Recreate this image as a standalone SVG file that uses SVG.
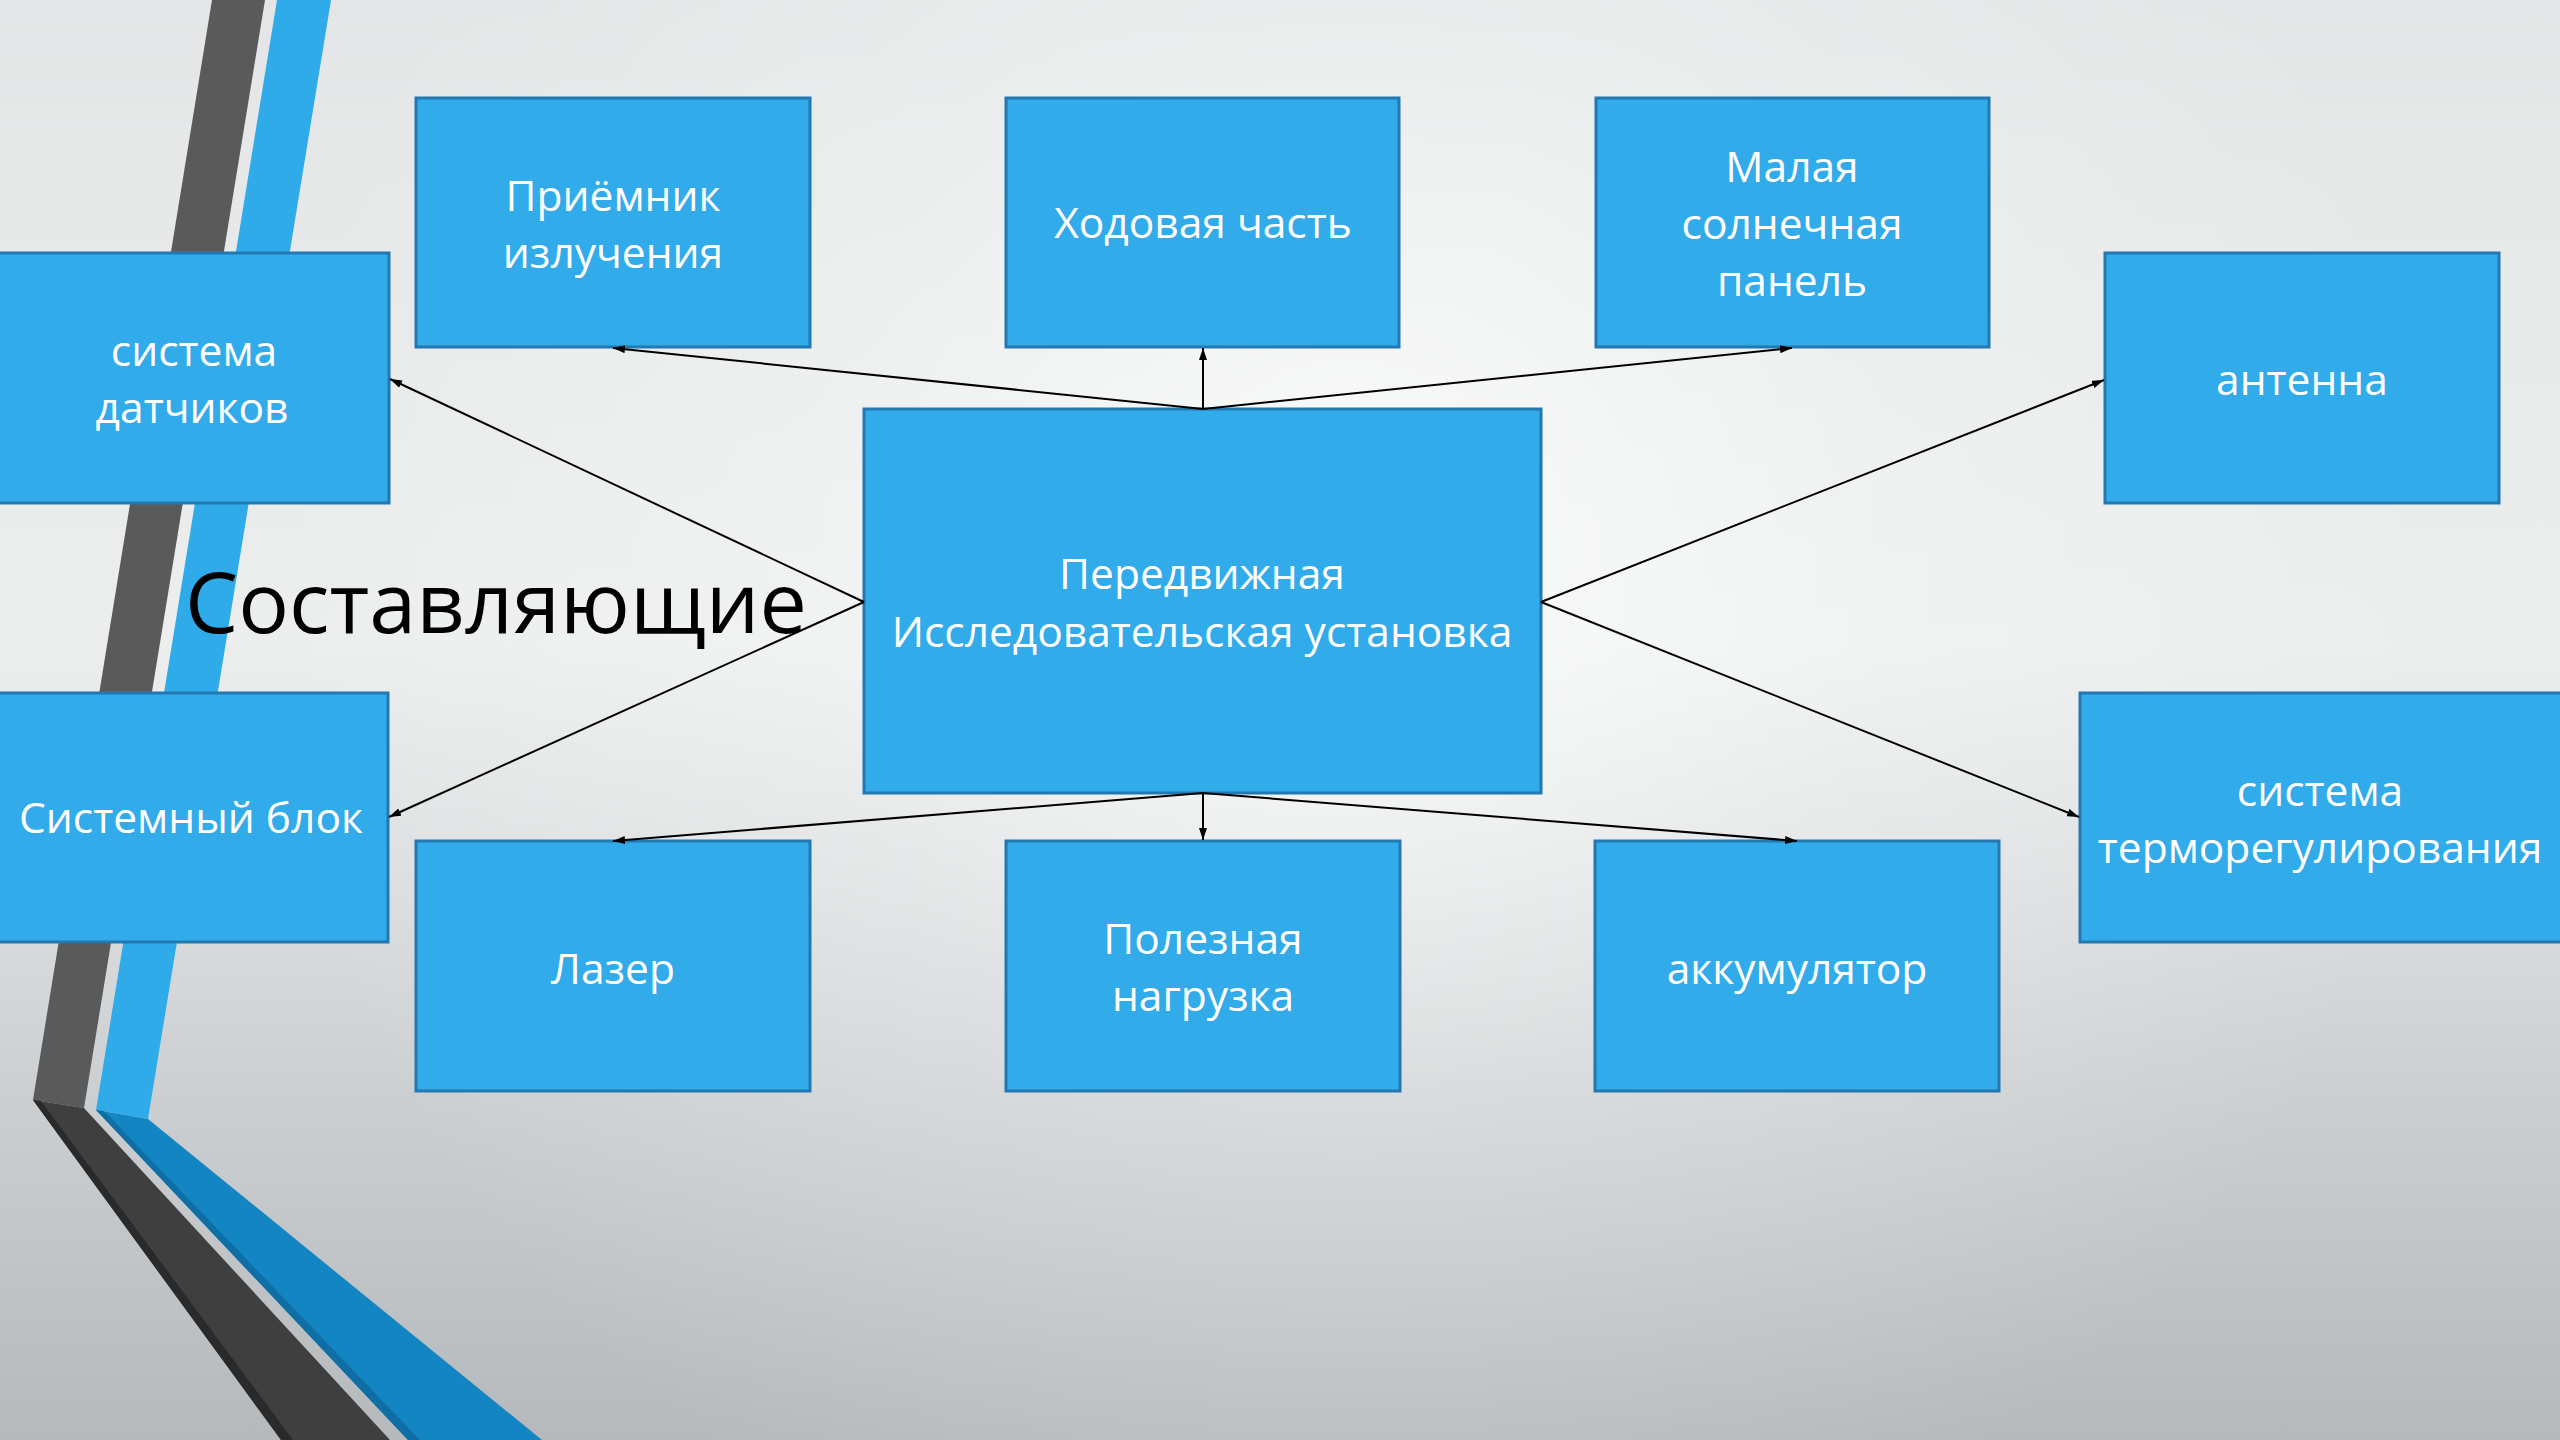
<svg xmlns="http://www.w3.org/2000/svg" width="2560" height="1440" viewBox="0 0 2560 1440">
<defs>
<linearGradient id="bgv" x1="0" y1="0" x2="0" y2="1">
<stop offset="0" stop-color="#e3e5e6"/>
<stop offset="0.45" stop-color="#eceeee"/>
<stop offset="0.75" stop-color="#cdd0d2"/>
<stop offset="1" stop-color="#b5b9bc"/>
</linearGradient>
<radialGradient id="bgr" gradientUnits="userSpaceOnUse" cx="1350" cy="560" r="1100">
<stop offset="0" stop-color="#ffffff" stop-opacity="0.75"/>
<stop offset="0.5" stop-color="#ffffff" stop-opacity="0.25"/>
<stop offset="1" stop-color="#ffffff" stop-opacity="0"/>
</radialGradient>
<marker id="arr" viewBox="0 0 12 8" refX="12" refY="4" markerWidth="12" markerHeight="8" markerUnits="userSpaceOnUse" orient="auto">
<path d="M0,0 L12,4 L0,8 Z" fill="#000"/>
</marker>
</defs>
<style>
.box{fill:#31abea;stroke:#2279b1;stroke-width:3}
.lbl{font-family:"Open Sans","Noto Sans","DejaVu Sans",sans-serif;font-size:42.5px;fill:#ffffff;text-anchor:middle}
.con{stroke:#000;stroke-width:2;fill:none;marker-end:url(#arr)}
.title{font-family:"Open Sans","Noto Sans","DejaVu Sans",sans-serif;font-size:84.5px;fill:#000}
</style>
<rect x="0" y="0" width="2560" height="1440" fill="url(#bgv)"/>
<rect x="0" y="0" width="2560" height="1440" fill="url(#bgr)"/>
<g id="decor">
<polygon points="212,0 265,0 84,1108 33,1100" fill="#5a5a5a"/>
<polygon points="277,0 331,0 148,1119 96,1110" fill="#30abe9"/>
<polygon points="33,1100 84,1108 390,1440 281,1440" fill="#3f3f3f"/>
<polygon points="33,1100 41,1101 293,1440 281,1440" fill="#2a2a2a"/>
<polygon points="96,1110 148,1119 542,1440 408,1440" fill="#1385c3"/>
<polygon points="96,1110 104,1111 420,1440 408,1440" fill="#0f6ea3"/>
</g>
<g id="node-priemnik"><rect class="box" x="416" y="98" width="394" height="249"/><text class="lbl" x="613" y="211">Приёмник</text><text class="lbl" x="613" y="268">излучения</text></g>
<g id="node-hodovaya"><rect class="box" x="1006" y="98" width="393" height="249"/><text class="lbl" x="1203" y="238">Ходовая часть</text></g>
<g id="node-malaya"><rect class="box" x="1596" y="98" width="393" height="249"/><text class="lbl" x="1792" y="182">Малая</text><text class="lbl" x="1792" y="239">солнечная</text><text class="lbl" x="1792" y="296">панель</text></g>
<g id="node-datchiki"><rect class="box" x="-10" y="253" width="399" height="250"/><text class="lbl" x="194" y="366">система</text><text class="lbl" x="192" y="423">датчиков</text></g>
<g id="node-antenna"><rect class="box" x="2105" y="253" width="394" height="250"/><text class="lbl" x="2302" y="395">антенна</text></g>
<g id="node-center"><rect class="box" x="864" y="409" width="677" height="384"/><text class="lbl" x="1202" y="589">Передвижная</text><text class="lbl" x="1202" y="647">Исследовательская установка</text></g>
<g id="node-sysblok"><rect class="box" x="-10" y="693" width="398" height="249"/><text class="lbl" x="191" y="833">Системный блок</text></g>
<g id="node-termo"><rect class="box" x="2080" y="693" width="492" height="249"/><text class="lbl" x="2320" y="806">система</text><text class="lbl" x="2320" y="863">терморегулирования</text></g>
<g id="node-lazer"><rect class="box" x="416" y="841" width="394" height="250"/><text class="lbl" x="613" y="984">Лазер</text></g>
<g id="node-polez"><rect class="box" x="1006" y="841" width="394" height="250"/><text class="lbl" x="1203" y="954">Полезная</text><text class="lbl" x="1203" y="1011">нагрузка</text></g>
<g id="node-akkum"><rect class="box" x="1595" y="841" width="404" height="250"/><text class="lbl" x="1797" y="984">аккумулятор</text></g>
<g id="connectors">
<line class="con" x1="1203" y1="409" x2="613" y2="348"/>
<line class="con" x1="1203" y1="409" x2="1203" y2="348"/>
<line class="con" x1="1203" y1="409" x2="1792" y2="348"/>
<line class="con" x1="864" y1="602" x2="390" y2="379"/>
<line class="con" x1="864" y1="602" x2="389" y2="817"/>
<line class="con" x1="1541" y1="602" x2="2104" y2="380"/>
<line class="con" x1="1541" y1="602" x2="2079" y2="817"/>
<line class="con" x1="1203" y1="793" x2="613" y2="841"/>
<line class="con" x1="1203" y1="793" x2="1203" y2="840"/>
<line class="con" x1="1203" y1="793" x2="1797" y2="841"/>
</g>
<text class="title" x="185" y="633">Составляющие</text>
</svg>
